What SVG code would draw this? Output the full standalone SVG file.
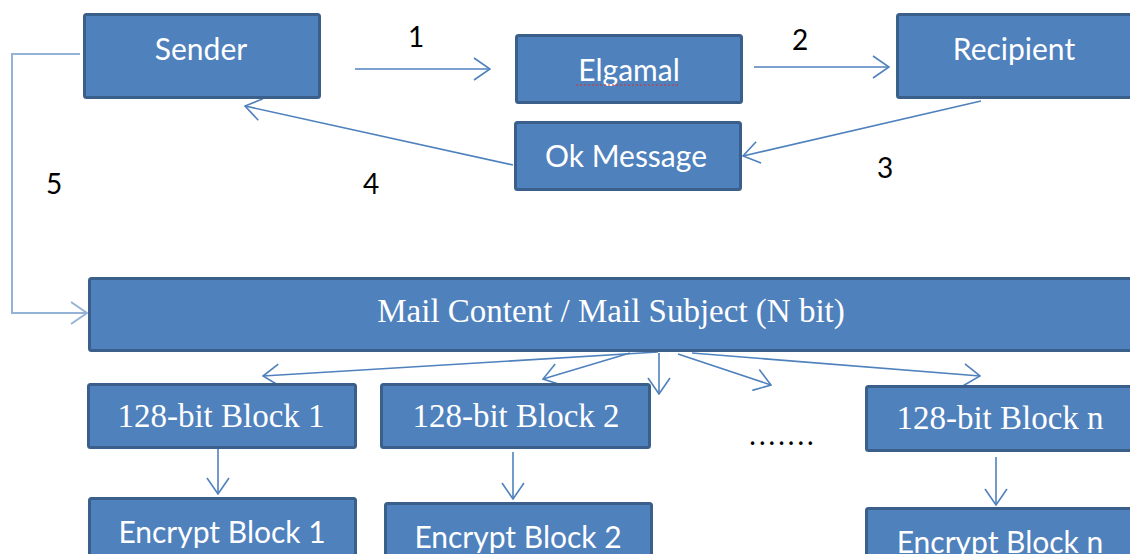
<svg xmlns="http://www.w3.org/2000/svg" width="1130" height="554" viewBox="0 0 1130 554">
<style>
.box{fill:#4F81BD;stroke:#3A5F8B;stroke-width:3}
.sans{font-family:Lato,"Open Sans","Liberation Sans",sans-serif;fill:#FFFFFF;font-size:30px;text-anchor:middle}
.serif{font-family:"Liberation Serif","DejaVu Serif",serif;fill:#FFFFFF;font-size:33px;text-anchor:middle}
.lbl{font-family:Lato,"Open Sans","Liberation Sans",sans-serif;fill:#000000;font-size:28px;text-anchor:middle}
.con{fill:none;stroke:#4F81BD;stroke-width:1.6}
.con5{fill:none;stroke:#95B3D7;stroke-width:2}
</style>
<defs>
<marker id="ah" viewBox="0 0 18 24" refX="17" refY="12" markerWidth="18" markerHeight="24" markerUnits="userSpaceOnUse" orient="auto">
<path d="M1,1 L17,12 L1,23" fill="none" stroke="#4F81BD" stroke-width="1.6"/>
</marker>
<marker id="ah5" viewBox="0 0 18 24" refX="17" refY="12" markerWidth="18" markerHeight="24" markerUnits="userSpaceOnUse" orient="auto">
<path d="M1,1 L17,12 L1,23" fill="none" stroke="#95B3D7" stroke-width="2"/>
</marker>
</defs>
<rect width="1130" height="554" fill="#FFFFFF"/>
<g id="connectors">
<line class="con" x1="355" y1="69" x2="490" y2="69" marker-end="url(#ah)"/>
<line class="con" x1="754" y1="67" x2="889" y2="67" marker-end="url(#ah)"/>
<line class="con" x1="981" y1="101" x2="743" y2="156" marker-end="url(#ah)"/>
<line class="con" x1="513" y1="165" x2="245" y2="106" marker-end="url(#ah)"/>
<polyline class="con5" points="80,54 12,54 12,313 87,313" marker-end="url(#ah5)"/>
<line class="con" x1="658" y1="352" x2="263" y2="376" marker-end="url(#ah)"/>
<line class="con" x1="630" y1="353" x2="543" y2="379" marker-end="url(#ah)"/>
<line class="con" x1="659" y1="353" x2="659" y2="394" marker-end="url(#ah)"/>
<line class="con" x1="678" y1="354" x2="771" y2="385" marker-end="url(#ah)"/>
<line class="con" x1="692" y1="353" x2="980" y2="376" marker-end="url(#ah)"/>
<line class="con" x1="218" y1="449" x2="218" y2="494" marker-end="url(#ah)"/>
<line class="con" x1="513" y1="452" x2="513" y2="499" marker-end="url(#ah)"/>
<line class="con" x1="996" y1="457" x2="996" y2="505" marker-end="url(#ah)"/>
</g>
<g id="sender"><rect class="box" x="84.5" y="14.5" width="235" height="83" rx="2"/><text class="sans" x="201" y="60" font-size="29">Sender</text></g>
<g id="elgamal"><rect class="box" x="516.5" y="35.5" width="225" height="67" rx="2"/><text class="sans" x="629" y="81">Elgamal</text><line x1="576" y1="85" x2="680" y2="85" stroke="#E03030" stroke-width="1.2" stroke-dasharray="2,2"/></g>
<g id="recipient"><rect class="box" x="897.5" y="14.5" width="240" height="83" rx="2"/><text class="sans" x="1014" y="60">Recipient</text></g>
<g id="okmessage"><rect class="box" x="515.5" y="122.5" width="225" height="67" rx="2"/><text class="sans" x="626" y="167">Ok Message</text></g>
<g id="mail"><rect class="box" x="89.5" y="278.5" width="1050" height="72" rx="2"/><text class="serif" x="611" y="322" font-size="34">Mail Content / Mail Subject (N bit)</text></g>
<g id="block1"><rect class="box" x="88.5" y="384.5" width="267" height="63" rx="2"/><text class="serif" x="221" y="427">128-bit Block 1</text></g>
<g id="block2"><rect class="box" x="381.5" y="384.5" width="268" height="63" rx="2"/><text class="serif" x="516" y="427">128-bit Block 2</text></g>
<g id="blockn"><rect class="box" x="866.5" y="386.5" width="270" height="64" rx="2"/><text class="serif" x="1000" y="429">128-bit Block n</text></g>
<g id="enc1"><rect class="box" x="89.5" y="498.5" width="266" height="70" rx="2"/><text class="sans" x="222" y="543">Encrypt Block 1</text></g>
<g id="enc2"><rect class="box" x="385.5" y="503.5" width="266" height="70" rx="2"/><text class="sans" x="518" y="548">Encrypt Block 2</text></g>
<g id="encn"><rect class="box" x="866.5" y="508.5" width="270" height="70" rx="2"/><text class="sans" x="1000" y="553">Encrypt Block n</text></g>
<g id="labels">
<text class="lbl" x="416" y="47">1</text>
<text class="lbl" x="800" y="50">2</text>
<text class="lbl" x="885" y="178">3</text>
<text class="lbl" x="371" y="194">4</text>
<text class="lbl" x="54" y="194">5</text>
<text class="lbl" x="783" y="445" letter-spacing="3">.......</text>
</g>
</svg>
